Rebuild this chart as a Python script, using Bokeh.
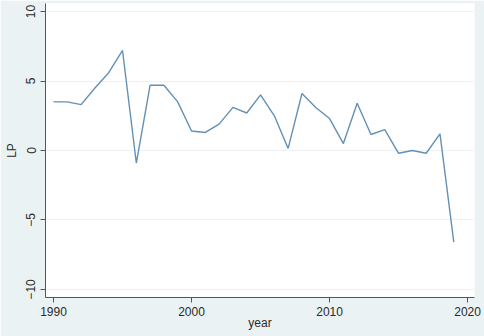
from bokeh.plotting import figure
from bokeh.models import FixedTicker
from bokeh.embed import file_html
from bokeh.resources import INLINE

years = list(range(1990, 2020))
lp = [3.5, 3.5, 3.3, 4.5, 5.6, 7.2, -0.9, 4.7, 4.7, 3.5,
      1.4, 1.3, 1.9, 3.1, 2.7, 4.0, 2.5, 0.15, 4.1, 3.1,
      2.3, 0.5, 3.4, 1.15, 1.5, -0.2, 0.0, -0.2, 1.2, -6.6]
x_ticks = [1990, 2000, 2010, 2020]
y_ticks = [-10, -5, 0, 5, 10]

BG = "#EAF2F3"
FONT = "Liberation Sans"

p = figure(width=484, height=336, output_backend="svg", toolbar_location=None,
           x_range=(1989.42, 2020.5), y_range=(-10.58, 10.58),
           min_border_left=45, min_border_right=10, min_border_top=3, min_border_bottom=39)
p.border_fill_color = BG
p.background_fill_color = "white"
p.outline_line_color = None

p.line(years, lp, line_color="#6390B5", line_width=1.4)

p.xaxis.ticker = FixedTicker(ticks=x_ticks)
p.yaxis.ticker = FixedTicker(ticks=y_ticks)
p.xaxis.axis_label = "year"
p.yaxis.axis_label = "LP"
p.yaxis.major_label_orientation = "vertical"

for ax in (p.xaxis[0], p.yaxis[0]):
    ax.axis_line_color = "#555555"
    ax.major_tick_line_color = "#555555"
    ax.major_tick_out = 5
    ax.major_tick_in = 0
    ax.minor_tick_line_color = None
    ax.major_label_text_font = FONT
    ax.major_label_text_font_size = "12px"
    ax.major_label_text_color = "#2a2a2a"
    ax.axis_label_text_font = FONT
    ax.axis_label_text_font_size = "12px"
    ax.axis_label_text_font_style = "normal"
    ax.axis_label_text_color = "#2a2a2a"

p.xaxis[0].major_label_standoff = 4
p.xaxis[0].axis_label_standoff = -3
p.yaxis[0].major_label_standoff = 5
p.yaxis[0].axis_label_standoff = 5

p.xgrid.grid_line_color = None
p.ygrid.grid_line_color = "#EDF3F4"
p.ygrid.grid_line_width = 1

html = file_html(p, INLINE)
html = html.replace("<body>", '<body style="background:%s;">' % BG, 1)
open("out.html", "w").write(html)
